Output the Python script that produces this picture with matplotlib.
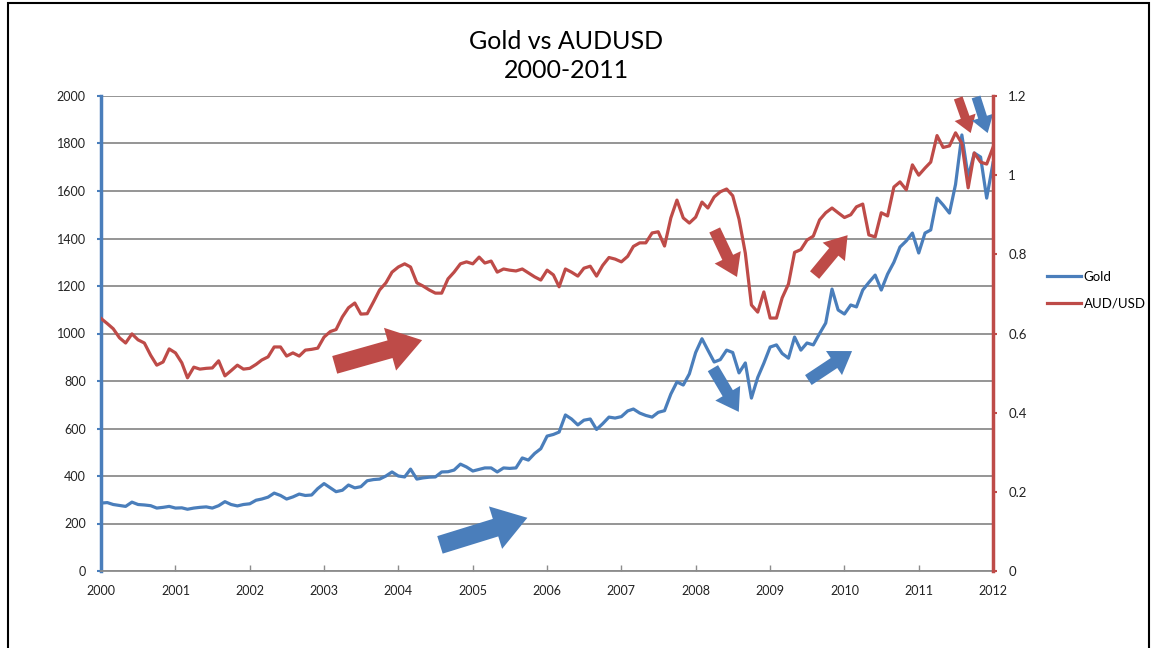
import matplotlib
matplotlib.use("Agg")
import matplotlib.pyplot as plt
import matplotlib.dates as mdates
from matplotlib.patches import Rectangle
from matplotlib.ticker import FuncFormatter
import pandas as pd

# Monthly dates, Jan 2000 .. Jan 2012
months = pd.date_range("2000-01-01", "2012-01-01", freq="MS")

# Gold price (USD/oz)
gold = [
    286, 288, 280, 276, 272, 290, 280, 278, 275, 265, 268, 272,  # 2000
    265, 266, 260, 265, 268, 270, 265, 275, 292, 280, 274, 280,  # 2001
    283, 298, 303, 311, 328, 318, 303, 312, 324, 318, 320, 347,  # 2002
    368, 350, 334, 340, 362, 350, 355, 380, 385, 387, 400, 417,  # 2003
    400, 396, 429, 387, 392, 395, 396, 417, 418, 425, 450, 438,  # 2004
    421, 428, 434, 434, 417, 434, 432, 434, 476, 467, 495, 515,  # 2005
    568, 575, 585, 657, 640, 615, 635, 640, 596, 620, 648, 644,  # 2006
    650, 674, 682, 665, 655, 648, 668, 675, 745, 796, 783, 830,  # 2007
    920, 978, 930, 880, 890, 930, 920, 834, 876, 728, 815, 875,  # 2008
    943, 952, 916, 896, 985, 930, 960, 952, 1000, 1044, 1187, 1099,  # 2009
    1082, 1120, 1112, 1183, 1215, 1246, 1183, 1250, 1300, 1364, 1390, 1423,  # 2010
    1339, 1423, 1436, 1570, 1541, 1507, 1628, 1836, 1659, 1760, 1743, 1570,  # 2011
    1718,  # Jan 2012
]

# AUD/USD
audusd = [
    0.638, 0.625, 0.612, 0.589, 0.576, 0.599, 0.584, 0.576, 0.545, 0.520, 0.528, 0.561,
    0.551, 0.526, 0.488, 0.515, 0.510, 0.512, 0.513, 0.531, 0.493, 0.506, 0.520, 0.510,
    0.512, 0.522, 0.533, 0.541, 0.566, 0.566, 0.543, 0.551, 0.543, 0.558, 0.560, 0.563,
    0.591, 0.605, 0.610, 0.642, 0.665, 0.677, 0.649, 0.650, 0.680, 0.710, 0.728, 0.755,
    0.768, 0.776, 0.768, 0.728, 0.720, 0.710, 0.702, 0.702, 0.738, 0.755, 0.776, 0.781,
    0.776, 0.793, 0.778, 0.783, 0.755, 0.763, 0.760, 0.758, 0.763, 0.753, 0.743, 0.735,
    0.760, 0.748, 0.718, 0.763, 0.755, 0.745, 0.765, 0.770, 0.745, 0.772, 0.792, 0.788,
    0.781, 0.795, 0.820, 0.829, 0.829, 0.854, 0.857, 0.821, 0.892, 0.937, 0.892, 0.879,
    0.894, 0.932, 0.917, 0.945, 0.958, 0.965, 0.948, 0.889, 0.803, 0.672, 0.654, 0.705,
    0.639, 0.639, 0.690, 0.725, 0.805, 0.812, 0.836, 0.846, 0.887, 0.905, 0.917, 0.905,
    0.893, 0.900, 0.920, 0.927, 0.849, 0.844, 0.905, 0.897, 0.970, 0.983, 0.963, 1.026,
    1.000, 1.018, 1.033, 1.100, 1.070, 1.074, 1.107, 1.080, 0.968, 1.056, 1.033, 1.028,
    1.070,
]

BLUE = "#4A7EBB"
RED = "#BE4B48"
GRID = "#8C8C8C"
FONT = "Lato"

fig = plt.figure(figsize=(11.52, 6.48), dpi=100, facecolor="white")
ax = fig.add_axes([101 / 1152, 1 - 571 / 648, 892 / 1152, 475 / 648])
ax2 = ax.twinx()

# lines
l1, = ax.plot(months, gold, color=BLUE, lw=2.3, label="Gold", zorder=3)
l2, = ax2.plot(months, audusd, color=RED, lw=2.3, label="AUD/USD", zorder=3)

# left axis
ax.set_ylim(0, 2000)
ax.set_yticks(range(0, 2001, 200))
ax.yaxis.grid(True, color=GRID, lw=1.3)
ax.set_axisbelow(True)
ax.set_xlim(pd.Timestamp("2000-01-01"), pd.Timestamp("2012-01-01"))
ax.xaxis.set_major_locator(mdates.YearLocator(1))
ax.xaxis.set_major_formatter(mdates.DateFormatter("%Y"))

# right axis
ax2.set_ylim(0, 1.2)
ax2.set_yticks([0, 0.2, 0.4, 0.6, 0.8, 1.0, 1.2])
ax2.yaxis.set_major_formatter(FuncFormatter(lambda v, p: f"{v:g}"))

# spines
for s in ["top", "right"]:
    ax.spines[s].set_visible(False)
ax.spines["left"].set_color(BLUE)
ax.spines["left"].set_linewidth(2.5)
ax.spines["bottom"].set_color(GRID)
ax.spines["bottom"].set_linewidth(1.3)
for s in ["top", "left", "bottom"]:
    ax2.spines[s].set_visible(False)
ax2.spines["right"].set_color(RED)
ax2.spines["right"].set_linewidth(2.5)

# ticks
ax.tick_params(axis="y", colors=BLUE, labelcolor="#222222", length=3, width=1.5,
               labelsize=9, pad=8)
ax.tick_params(axis="x", colors=GRID, labelcolor="#222222", length=4, width=1,
               labelsize=9, pad=10, direction="in")
ax2.tick_params(axis="y", colors=RED, labelcolor="#222222", length=3, width=1.5,
                labelsize=9.5, pad=8)
for lab in ax.get_yticklabels() + ax.get_xticklabels() + ax2.get_yticklabels():
    lab.set_fontfamily(FONT)

# title
fig.text(566 / 1152, 1 - 56 / 648, "Gold vs AUDUSD\n2000-2011", ha="center", va="center",
         fontsize=18, family=FONT, linespacing=1.3, color="black")

# legend
fig.legend(handles=[l1, l2], loc="center left",
           bbox_to_anchor=(1035 / 1152, 1 - 290 / 648), frameon=False,
           prop={"family": FONT, "size": 9.5}, handlelength=2.6, handletextpad=0.2,
           labelspacing=1.1)

# block arrows (axes-fraction coordinates: tail -> tip, color, size)
arrows = [
    ((0.262, 0.434), (0.360, 0.486), RED, 40),
    ((0.380, 0.055), (0.478, 0.112), BLUE, 40),
    ((0.688, 0.718), (0.713, 0.619), RED, 26),
    ((0.686, 0.427), (0.715, 0.335), BLUE, 26),
    ((0.800, 0.623), (0.837, 0.707), RED, 26),
    ((0.793, 0.402), (0.842, 0.463), BLUE, 26),
    ((0.961, 0.996), (0.975, 0.922), RED, 20),
    ((0.981, 0.998), (0.994, 0.922), BLUE, 20),
]
for tail, tip, col, size in arrows:
    ax.annotate("", xy=tip, xytext=tail, xycoords="axes fraction",
                textcoords="axes fraction",
                arrowprops=dict(arrowstyle="simple,head_length=0.6,head_width=0.8,tail_width=0.33",
                                color=col, mutation_scale=size, shrinkA=0, shrinkB=0, lw=0),
                zorder=5)

# outer frame (left, top, right)
fig.patches.append(Rectangle((8 / 1152, -0.1), 1141 / 1152, 1.1 - 3 / 648,
                             transform=fig.transFigure, fill=False, ec="black", lw=1.5))

fig.savefig("out.png", dpi=100)
